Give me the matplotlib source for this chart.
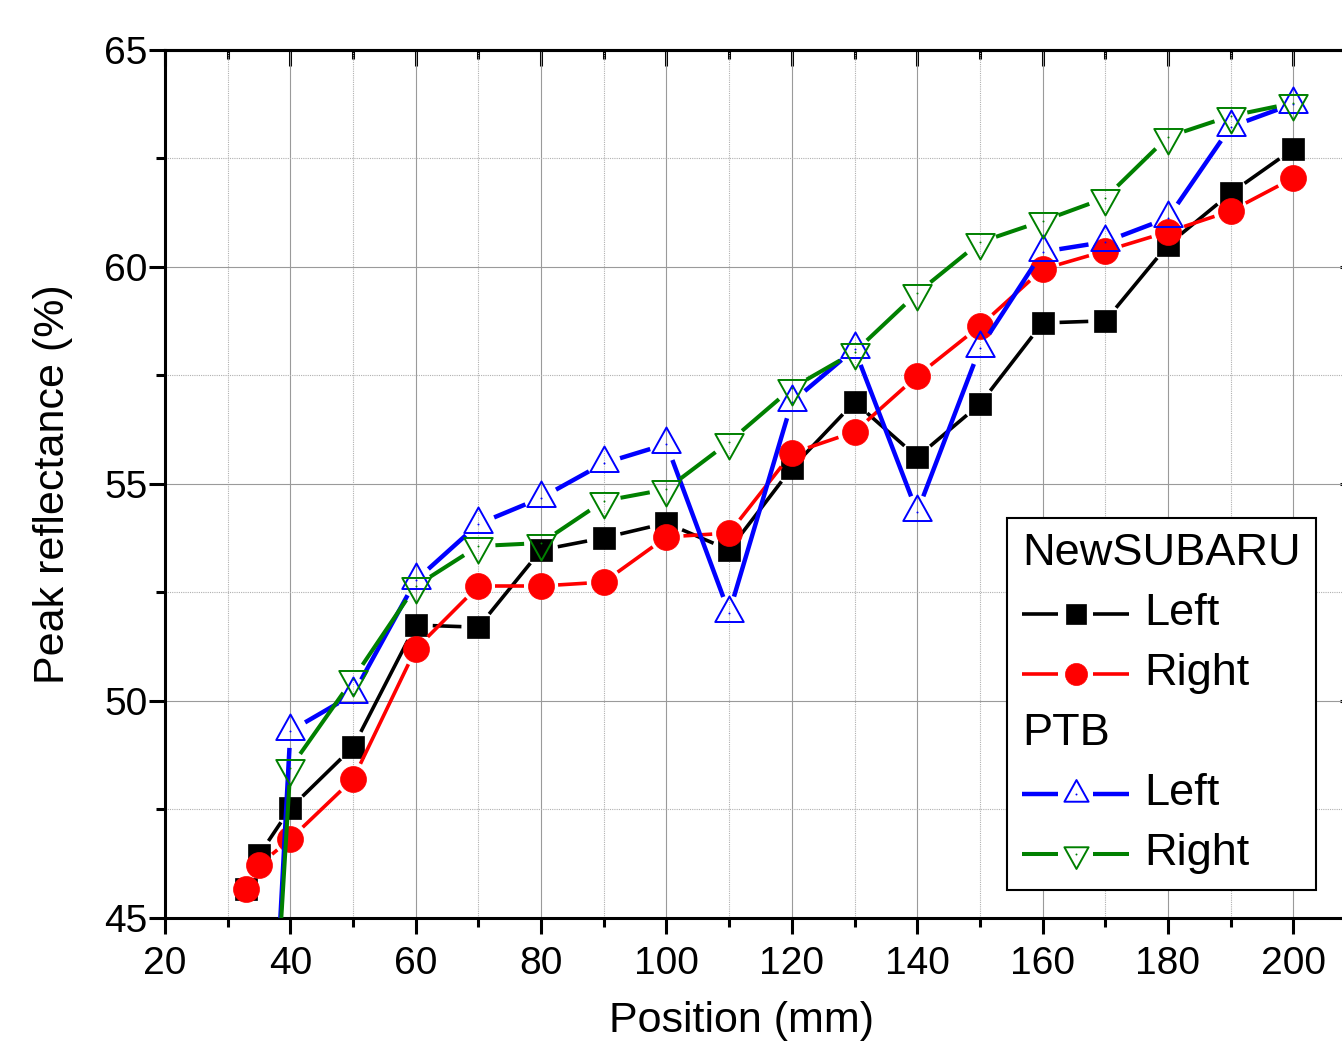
import numpy as np
import matplotlib
matplotlib.use('Agg')
import matplotlib.pyplot as plt
from matplotlib.collections import LineCollection
from matplotlib.transforms import IdentityTransform
from matplotlib.offsetbox import AnchoredOffsetbox, VPacker, HPacker, TextArea, DrawingArea
from matplotlib.lines import Line2D
from matplotlib.path import Path
from matplotlib.ticker import MultipleLocator

plt.rcParams['font.family'] = ['Liberation Sans', 'DejaVu Sans']

# ---------------- data ----------------
ns_x = [33, 35, 40, 50, 60, 70, 80, 90, 100, 110, 120, 130, 140, 150, 160, 170, 180, 190, 200]
ns_left = [45.67, 46.45, 47.53, 48.94, 51.75, 51.70, 53.48, 53.76, 54.10, 53.48, 55.37,
           56.89, 55.62, 56.84, 58.71, 58.76, 60.51, 61.70, 62.72]
ns_right = [45.67, 46.22, 46.82, 48.20, 51.20, 52.65, 52.65, 52.74, 53.78, 53.87, 55.71,
            56.20, 57.49, 58.64, 59.95, 60.37, 60.81, 61.29, 62.05]
ptb_x = [35, 40, 50, 60, 70, 80, 90, 100, 110, 120, 130, 140, 150, 160, 170, 180, 190, 200]
ptb_left = [35.8, 49.31, 50.15, 52.78, 54.08, 54.68, 55.48, 55.92, 52.03, 56.89, 58.11,
            54.35, 58.13, 60.35, 60.58, 61.13, 63.23, 63.76]
ptb_right = [36.5, 48.46, 50.51, 52.65, 53.57, 53.64, 54.61, 54.88, 55.97, 57.21, 58.04,
             59.40, 60.57, 61.06, 61.59, 63.00, 63.48, 63.78]

group_labels = ['NewSUBARU', 'PTB']
series_labels = ['Left', 'Right', 'Left', 'Right']
x_label = 'Position (mm)'
y_label = 'Peak reflectance (%)'

# ---------------- styles ----------------
def tri(up=True, w=29.0, h=26.0):
    s = 1 if up else -1
    verts = [(0, s * 2 * h / 3), (-w / 2, -s * h / 3), (w / 2, -s * h / 3), (0, 0)]
    codes = [Path.MOVETO, Path.LINETO, Path.LINETO, Path.CLOSEPOLY]
    return Path(verts, codes)

TRI_UP = tri(True)
TRI_DN = tri(False)

styles = [
    dict(color='black', lw=2.6, marker='s', ms=15.8, mfc='black', mew=0.5, dot=False),
    dict(color='#ff0000', lw=2.6, marker='o', ms=18.7, mfc='#ff0000', mew=0.5, dot=False),
    dict(color='#0000ff', lw=3.2, marker=TRI_UP, ms=24.5, mfc='none', mew=1.4, dot=True),
    dict(color='#008000', lw=2.9, marker=TRI_DN, ms=24.5, mfc='none', mew=1.4, dot=True),
]
datasets = [(ns_x, ns_left), (ns_x, ns_right), (ptb_x, ptb_left), (ptb_x, ptb_right)]

W, H = 1342, 1044
fig = plt.figure(figsize=(W / 100, H / 100), dpi=100)
ax_left, ax_right, ax_top, ax_bot = 165, 1356, 50, 918
ax = fig.add_axes([ax_left / W, 1 - ax_bot / H, (ax_right - ax_left) / W, (ax_bot - ax_top) / H])
ax.set_xlim(20, 210)
ax.set_ylim(45, 65)

ax.xaxis.set_major_locator(MultipleLocator(20))
ax.xaxis.set_minor_locator(MultipleLocator(10))
ax.yaxis.set_major_locator(MultipleLocator(5))
ax.yaxis.set_minor_locator(MultipleLocator(2.5))

ax.grid(which='major', color='#9a9a9a', lw=0.8, ls='-', zorder=0)
ax.grid(which='minor', color='#b0b0b0', lw=0.8, ls=(0, (1, 1)), zorder=0)
ax.set_axisbelow(True)

for sp in ax.spines.values():
    sp.set_linewidth(2.2)

ax.tick_params(which='both', direction='out', width=2.2, labelsize=28, top=False, right=False)
ax.tick_params(which='major', length=11.5)
ax.tick_params(which='minor', length=6.5)
ax.tick_params(axis='x', which='major', pad=9)
ax.tick_params(axis='y', which='major', pad=1)

sec_x = ax.secondary_xaxis('top')
sec_x.xaxis.set_major_locator(MultipleLocator(20))
sec_x.xaxis.set_minor_locator(MultipleLocator(10))
sec_x.tick_params(which='both', direction='in', width=2.2, labeltop=False)
sec_x.tick_params(which='major', length=11.5)
sec_x.tick_params(which='minor', length=6.5)
sec_x.spines['top'].set_linewidth(2.2)

sec_y = ax.secondary_yaxis('right')
sec_y.yaxis.set_major_locator(MultipleLocator(5))
sec_y.yaxis.set_minor_locator(MultipleLocator(2.5))
sec_y.tick_params(which='both', direction='in', width=2.2, labelright=False)
sec_y.tick_params(which='major', length=11.5)
sec_y.tick_params(which='minor', length=6.5)
sec_y.spines['right'].set_linewidth(2.2)

ax.set_xlabel(x_label, fontsize=31)
ax.set_ylabel(y_label, fontsize=31)
ax.xaxis.set_label_coords((742 - ax_left) / (ax_right - ax_left), -0.096)
ax.yaxis.set_label_coords((73 - ax_left) / (ax_right - ax_left), 0.5)

GAP = 17.0  # pixels between marker centre and line end


def gapped_line(ax, x, y, color, lw, z):
    pts = ax.transData.transform(np.column_stack([x, y]))
    segs = []
    for p0, p1 in zip(pts[:-1], pts[1:]):
        d = p1 - p0
        L = np.hypot(d[0], d[1])
        if L <= 2 * GAP:
            continue
        u = d / L
        segs.append([p0 + u * GAP, p1 - u * GAP])
    lc = LineCollection(segs, colors=color, linewidths=lw, transform=IdentityTransform(),
                        capstyle='butt', zorder=z)
    ax.add_collection(lc, autolim=False)


for i, ((xs, ys), st) in enumerate(zip(datasets, styles)):
    z = 3 + i
    gapped_line(ax, xs, ys, st['color'], st['lw'], z)
    ax.plot(xs, ys, ls='none', marker=st['marker'], ms=st['ms'], mfc=st['mfc'],
            mec=st['color'], mew=st['mew'], zorder=z + 0.1, clip_on=True)
    if st['dot']:
        ax.plot(xs, ys, ls='none', marker='o', ms=1.4, mfc=st['color'], mec=st['color'],
                mew=0, zorder=z + 0.2)

# ---------------- legend ----------------
LEG_FS = 32.5


def handle_area(st, scale):
    da = DrawingArea(77, 22, 0, 0)
    yc = 11
    da.add_artist(Line2D([0, 26], [yc, yc], color=st['color'], lw=st['lw'], solid_capstyle='butt'))
    da.add_artist(Line2D([51, 77], [yc, yc], color=st['color'], lw=st['lw'], solid_capstyle='butt'))
    da.add_artist(Line2D([38.5], [yc], ls='none', marker=st['marker'], ms=st['ms'] * scale,
                         mfc=st['mfc'], mec=st['color'], mew=st['mew']))
    if st['dot']:
        da.add_artist(Line2D([38.5], [yc], ls='none', marker='o', ms=1.4, mfc=st['color'],
                             mec=st['color'], mew=0))
    return da


def row(st, label, scale):
    return HPacker(children=[handle_area(st, scale), TextArea(label, textprops=dict(fontsize=LEG_FS))],
                   sep=11, align='center', pad=0)


children = [
    TextArea(group_labels[0], textprops=dict(fontsize=LEG_FS)),
    row(styles[0], series_labels[0], 0.9),
    row(styles[1], series_labels[1], 0.85),
    TextArea(group_labels[1], textprops=dict(fontsize=LEG_FS)),
    row(styles[2], series_labels[2], 0.85),
    row(styles[3], series_labels[3], 0.85),
]
vp = VPacker(children=children, sep=13.7, align='left', pad=0)
ab = AnchoredOffsetbox(loc='upper left', child=vp, pad=1.1, borderpad=0,
                       prop=dict(size=10), frameon=True,
                       bbox_to_anchor=(1007 / W, 1 - 518 / H), bbox_transform=fig.transFigure)
ab.patch.set_edgecolor('black')
ab.patch.set_linewidth(1.5)
ab.patch.set_boxstyle('square', pad=0)
ab.set_zorder(20)
ax.add_artist(ab)

fig.savefig('out.png', dpi=100)
